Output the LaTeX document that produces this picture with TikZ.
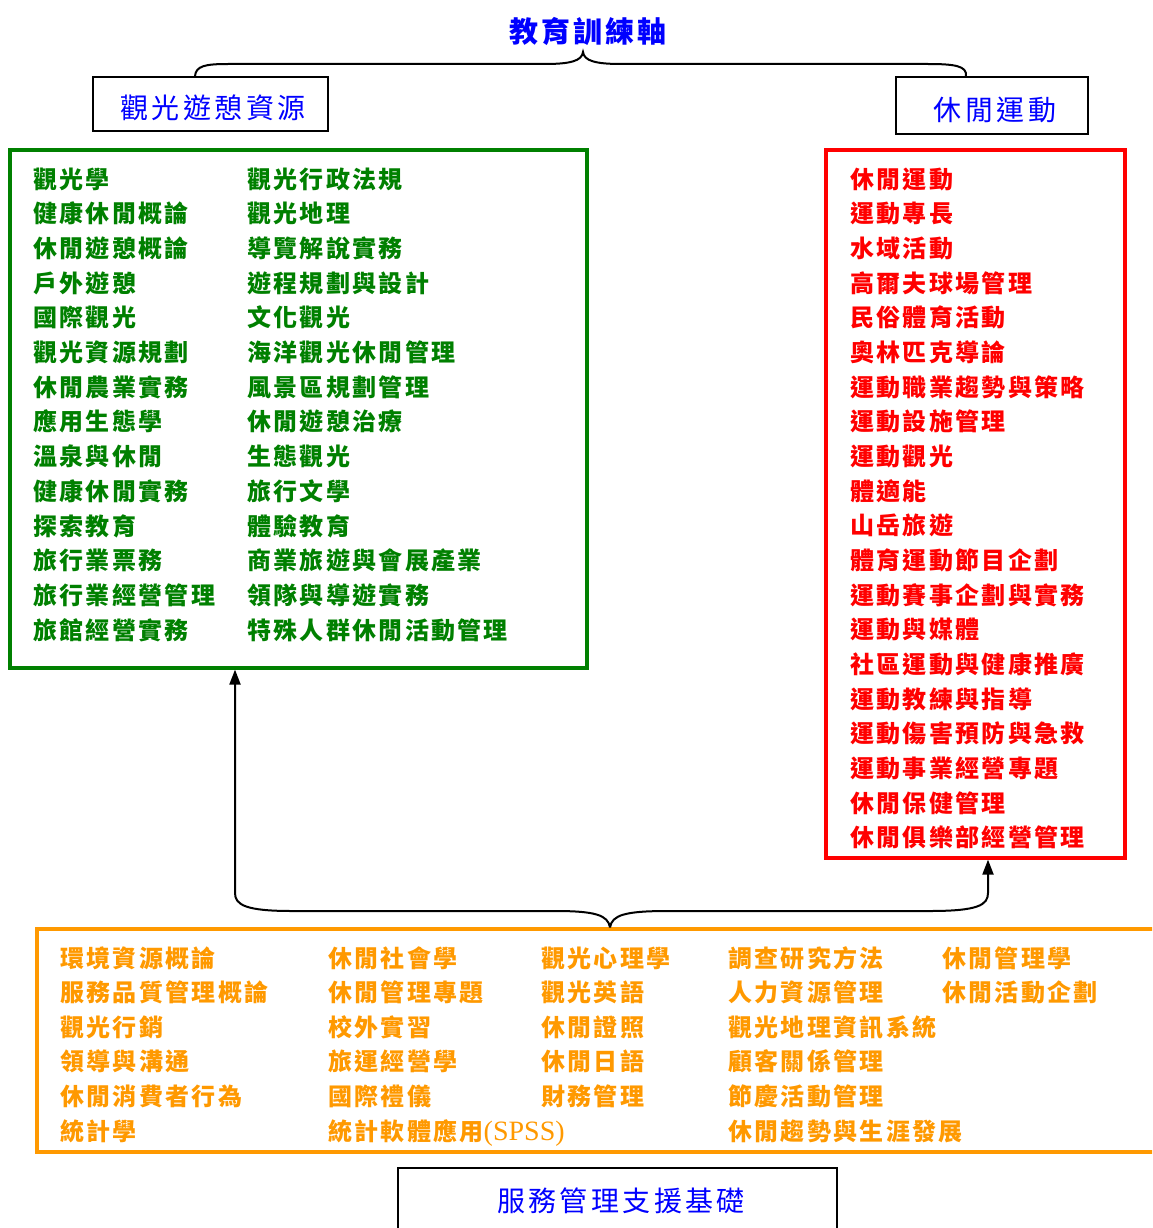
\documentclass[tikz,border=0pt]{standalone}
\usepackage{fontspec}
\newfontfamily\cjkitem{Noto Sans CJK TC}[LetterSpace=9.6]
\newfontfamily\cjkhead{Noto Sans CJK TC}[LetterSpace=12]
\newfontfamily\cjktitle{Noto Sans CJK TC}[LetterSpace=10]
\newfontfamily\latser{Liberation Serif}
\usetikzlibrary{arrows.meta,calc}
\definecolor{gcol}{RGB}{0,128,0}
\definecolor{rcol}{RGB}{255,0,0}
\definecolor{ocol}{RGB}{255,153,0}
\definecolor{bcol}{RGB}{0,0,255}
\tikzset{
  item/.style={anchor=base west,inner sep=0pt,font=\cjkitem\bfseries\fontsize{24}{28}\selectfont},
  gitem/.style={item,text=gcol},
  ritem/.style={item,text=rcol},
  oitem/.style={item,text=ocol},
  headbox/.style={draw=black,line width=2pt,inner sep=0pt},
  headtext/.style={text=bcol,inner sep=0pt,font=\cjkhead\fontsize{28}{30}\selectfont},
  bigbox/.style={line width=3.2pt,inner sep=0pt,fill=none},
  conn/.style={draw=black,line width=2pt},
  tipped/.style={conn,-{Triangle[length=15pt,width=11pt]}}
}
\begin{document}
\begin{tikzpicture}[x=1pt,y=-1pt]
\useasboundingbox (0,0) rectangle (1152,1228);
\clip (0,0) rectangle (1152,1228);
\fill[white] (0,0) rectangle (1152,1228);

% title and header boxes
\node[text=bcol,inner sep=0pt,font=\cjktitle\bfseries\fontsize{29}{30}\selectfont] (title) at (588,31) {教育訓練軸};
\node[headbox,minimum width=235pt,minimum height=54pt] (h1) at (210.5,104) {};
\node[headtext] (h1t) at (213,108) {觀光遊憩資源};
\node[headbox,minimum width=192pt,minimum height=57pt] (h2) at (992,105.5) {};
\node[headtext] (h2t) at (995,110) {休閒運動};

% top brace
\coordinate (tbL) at ($(h1.north west)+(103,0)$);
\coordinate (tbR) at ($(h2.north west)+(71,0)$);
\coordinate (tbtip) at (583,52);
\draw[conn] (tbL) .. controls (196,66) and (205,64) .. (228,64) -- (545,64)
  .. controls (570,64) and (582,61) .. (tbtip)
  .. controls (584,61) and (596,64) .. (621,64) -- (928,64)
  .. controls (955,64) and (967,66) .. (tbR);

% green box
\node[draw=gcol,bigbox,minimum width=577pt,minimum height=518pt] (gbox) at (298.5,409) {};
\foreach \t [count=\i] in {觀光學,健康休閒概論,休閒遊憩概論,戶外遊憩,國際觀光,觀光資源規劃,休閒農業實務,應用生態學,溫泉與休閒,健康休閒實務,探索教育,旅行業票務,旅行業經營管理,旅館經營實務}
  \node[gitem] (gl\i) at (33,{188+(\i-1)*34.7}) {\t};
\foreach \t [count=\i] in {觀光行政法規,觀光地理,導覽解說實務,遊程規劃與設計,文化觀光,海洋觀光休閒管理,風景區規劃管理,休閒遊憩治療,生態觀光,旅行文學,體驗教育,商業旅遊與會展產業,領隊與導遊實務,特殊人群休閒活動管理}
  \node[gitem] (gr\i) at (247,{188+(\i-1)*34.7}) {\t};

% red box
\node[draw=rcol,bigbox,minimum width=299pt,minimum height=708pt] (rbox) at (975.5,504) {};
\foreach \t [count=\i] in {休閒運動,運動專長,水域活動,高爾夫球場管理,民俗體育活動,奧林匹克導論,運動職業趨勢與策略,運動設施管理,運動觀光,體適能,山岳旅遊,體育運動節目企劃,運動賽事企劃與實務,運動與媒體,社區運動與健康推廣,運動教練與指導,運動傷害預防與急救,運動事業經營專題,休閒保健管理,休閒俱樂部經營管理}
  \node[ritem] (rd\i) at (850,{188+(\i-1)*34.68}) {\t};

% orange box
\node[draw=ocol,bigbox,minimum width=1130pt,minimum height=223pt] (obox) at (602,1040.5) {};
\foreach \t [count=\i] in {環境資源概論,服務品質管理概論,觀光行銷,領導與溝通,休閒消費者行為,統計學}
  \node[oitem] (oa\i) at (60,{967+(\i-1)*34.6}) {\t};
\foreach \t [count=\i] in {休閒社會學,休閒管理專題,校外實習,旅運經營學,國際禮儀}
  \node[oitem] (ob\i) at (328,{967+(\i-1)*34.6}) {\t};
\node[oitem] (ob6) at (328,{967+5*34.6}) {統計軟體應用{\latser\mdseries\fontsize{28}{28}\selectfont(SPSS)}};
\foreach \t [count=\i] in {觀光心理學,觀光英語,休閒證照,休閒日語,財務管理}
  \node[oitem] (oc\i) at (541,{967+(\i-1)*34.6}) {\t};
\foreach \t [count=\i] in {調查研究方法,人力資源管理,觀光地理資訊系統,顧客關係管理,節慶活動管理,休閒趨勢與生涯發展}
  \node[oitem] (od\i) at (728,{967+(\i-1)*34.6}) {\t};
\foreach \t [count=\i] in {休閒管理學,休閒活動企劃}
  \node[oitem] (oe\i) at (942,{967+(\i-1)*34.6}) {\t};

% bottom label box
\node[headbox,minimum width=439pt,minimum height=70pt] (h3) at (617.5,1203) {};
\node[headtext] (h3t) at (621,1201) {服務管理支援基礎};

% bottom brace with arrows
\coordinate (btip) at ($(obox.north)+(8,0)$);
\draw[tipped] (btip) .. controls (608,915) and (595,911) .. (555,911) -- (292,911)
  .. controls (246,911) and (235,905) .. (235,893) -- (235,0 |- gbox.south);
\draw[tipped] (btip) .. controls (612,915) and (625,911) .. (668,911) -- (930,911)
  .. controls (978,911) and (988,905) .. (988,893) -- (988,0 |- rbox.south);
\end{tikzpicture}
\end{document}
